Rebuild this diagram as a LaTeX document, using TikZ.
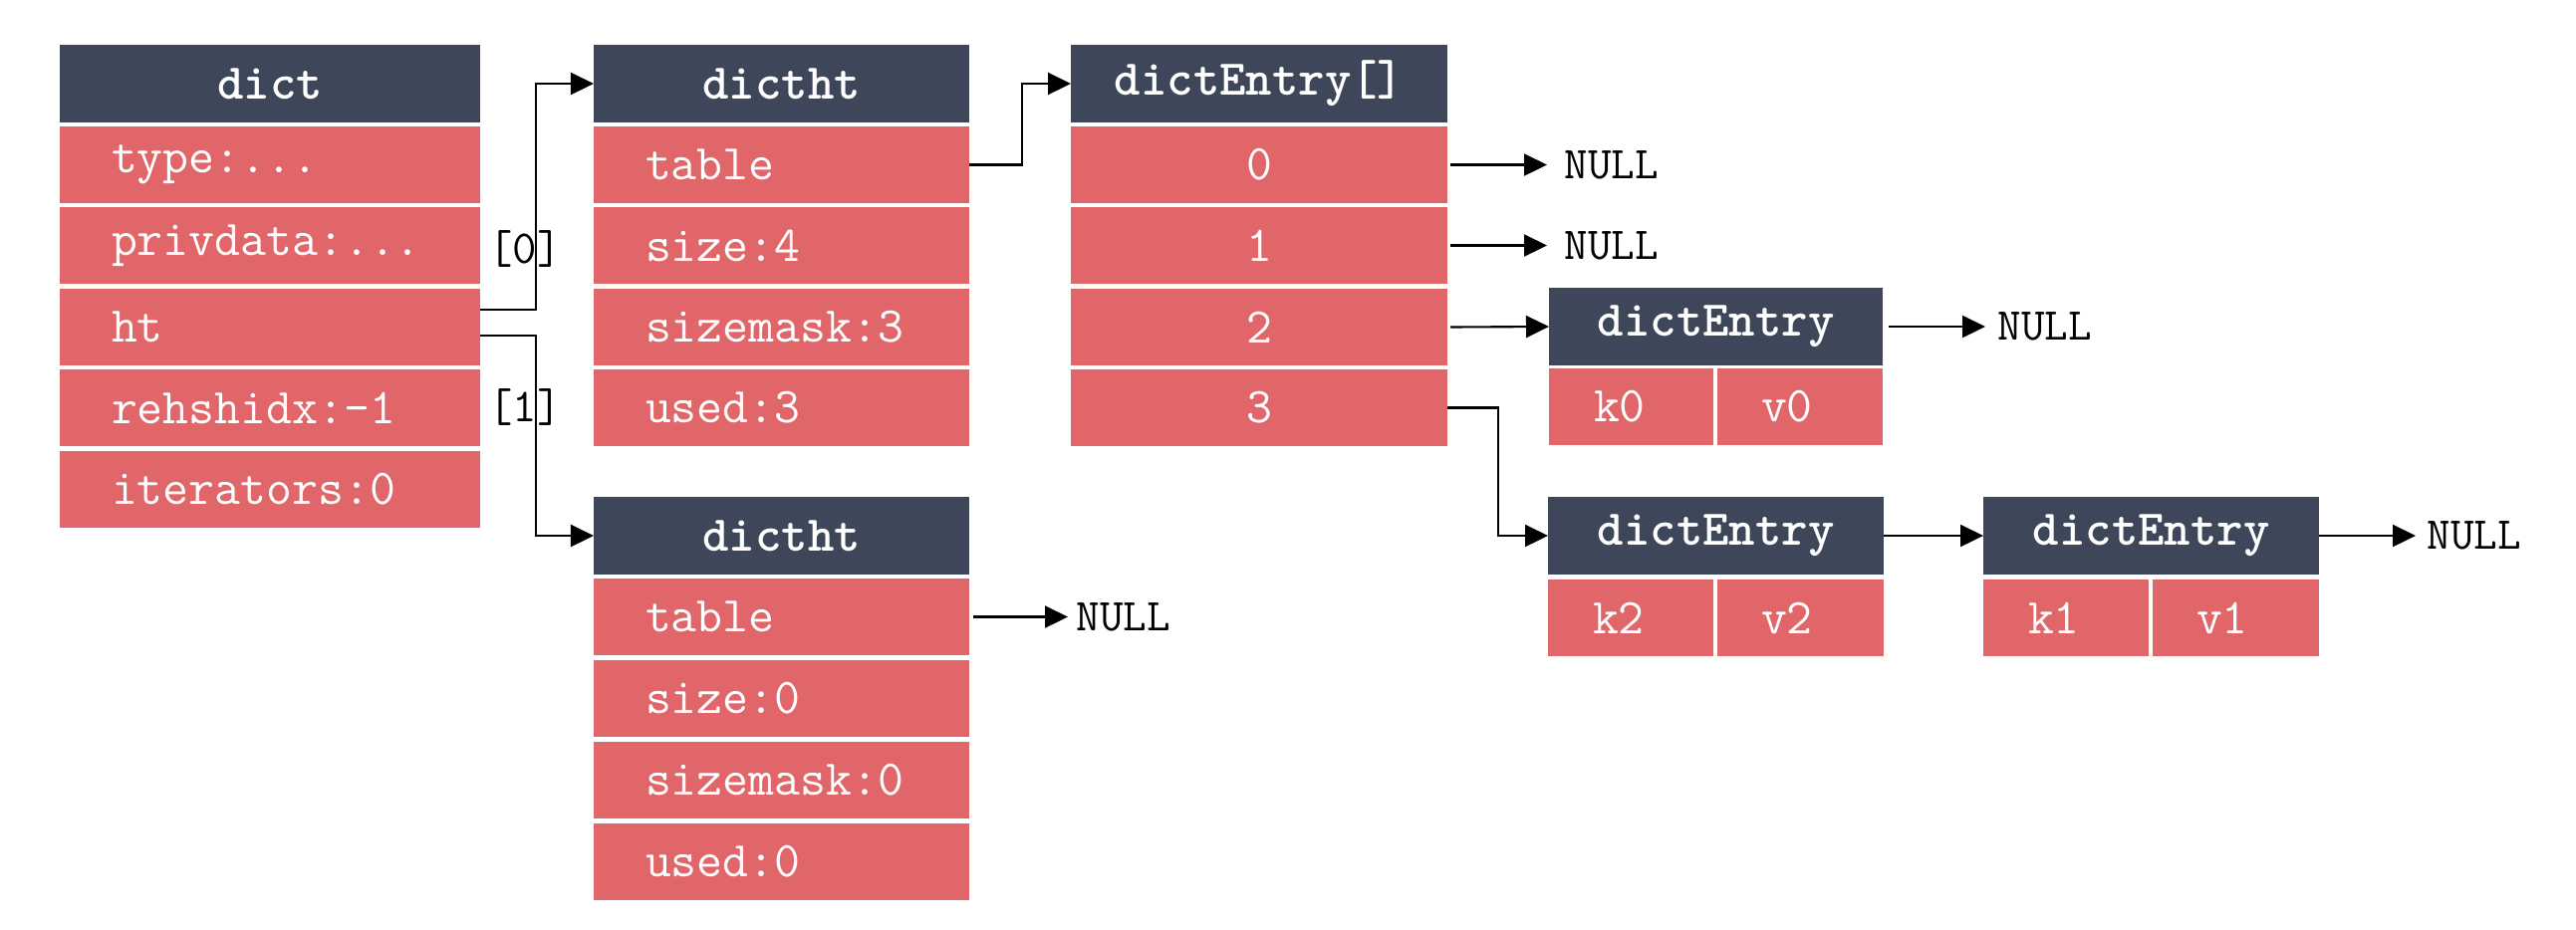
\documentclass[tikz,border=0pt]{standalone}
\usepackage{fontspec}
\usetikzlibrary{arrows.meta}
\definecolor{hdrc}{RGB}{61,71,89}
\definecolor{redc}{RGB}{224,102,106}
\begin{document}
\begin{tikzpicture}[x=0.01cm,y=-0.01cm,
 hdr/.style={fill=hdrc,text=white,font=\ttfamily\bfseries\fontsize{14.3}{16}\selectfont,inner sep=0,outer sep=0,anchor=north west,minimum width=#1,minimum height=0.78cm},
 fld/.style={fill=redc,text=white,font=\ttfamily\fontsize{14.3}{16}\selectfont,inner sep=0,outer sep=0,anchor=north west,text width=#1,minimum height=0.77cm,align=left},
 ctr/.style={fill=redc,text=white,font=\ttfamily\fontsize{14.3}{16}\selectfont,inner sep=0,outer sep=0,anchor=north west,minimum width=#1,minimum height=0.77cm},
 arr/.style={draw=black,line width=0.6pt,-{Triangle[length=0.23cm,width=0.22cm]}},
 nul/.style={font=\ttfamily\fontsize{13}{15}\selectfont,inner sep=0,anchor=west},
 lbl/.style={font=\ttfamily\fontsize{13.5}{15}\selectfont,inner sep=0}]
\useasboundingbox (0,0) rectangle (2586,934);
% dict
\node[hdr=4.22cm] (d) at (60,45) {dict};
\node[fld=4.22cm] (d1) at (60,127) {\noindent\hspace*{0.52cm}type:...};
\node[fld=4.22cm] (d2) at (60,208) {\noindent\hspace*{0.52cm}privdata:...};
\node[fld=4.22cm] (d3) at (60,290) {\noindent\hspace*{0.52cm}ht};
\node[fld=4.22cm] (d4) at (60,371) {\noindent\hspace*{0.52cm}rehshidx:-1};
\node[fld=4.22cm] (d5) at (60,453) {\noindent\hspace*{0.52cm}iterators:0};
% dictht 0
\node[hdr=3.77cm] (t0) at (596,45) {dictht};
\node[fld=3.77cm] (h1) at (596,127) {\noindent\hspace*{0.52cm}table};
\node[fld=3.77cm] (h2) at (596,208) {\noindent\hspace*{0.52cm}size:4};
\node[fld=3.77cm] (h3) at (596,290) {\noindent\hspace*{0.52cm}sizemask:3};
\node[fld=3.77cm] (h4) at (596,371) {\noindent\hspace*{0.52cm}used:3};
% dictht 1
\node[hdr=3.77cm] (t1) at (596,499) {dictht};
\node[fld=3.77cm] (g1) at (596,581) {\noindent\hspace*{0.52cm}table};
\node[fld=3.77cm] (g2) at (596,663) {\noindent\hspace*{0.52cm}size:0};
\node[fld=3.77cm] (g3) at (596,745) {\noindent\hspace*{0.52cm}sizemask:0};
\node[fld=3.77cm] (g4) at (596,827) {\noindent\hspace*{0.52cm}used:0};
% dictEntry[]
\node[hdr=3.78cm] (e) at (1075,45) {dictEntry[]};
\node[ctr=3.78cm] (e0) at (1075,127) {0};
\node[ctr=3.78cm] (e1) at (1075,208) {1};
\node[ctr=3.78cm] (e2) at (1075,290) {2};
\node[ctr=3.78cm] (e3) at (1075,371) {3};
% dictEntry A
\node[hdr=3.35cm] (A) at (1555,289) {dictEntry};
\node[fld=1.65cm] (Ak) at (1555,370) {\noindent\hspace*{0.45cm}k0};
\node[fld=1.66cm] (Av) at (1724,370) {\noindent\hspace*{0.44cm}v0};
% dictEntry B
\node[hdr=3.37cm] (B) at (1554,499) {dictEntry};
\node[fld=1.66cm] (Bk) at (1554,582) {\noindent\hspace*{0.45cm}k2};
\node[fld=1.67cm] (Bv) at (1724,582) {\noindent\hspace*{0.44cm}v2};
% dictEntry C
\node[hdr=3.37cm] (C) at (1991,499) {dictEntry};
\node[fld=1.66cm] (Ck) at (1991,582) {\noindent\hspace*{0.45cm}k1};
\node[fld=1.67cm] (Cv) at (2161,582) {\noindent\hspace*{0.44cm}v1};
% NULL labels
\node[nul] (n0) at (1570,166) {NULL};
\node[nul] (n1) at (1570,247) {NULL};
\node[nul] (nA) at (2005,328) {NULL};
\node[nul] (nC) at (2436,538) {NULL};
\node[nul] (ng) at (1080,620) {NULL};
% index labels
\node[lbl] (l0) at (527,250) {[0]};
\node[lbl] (l1) at (527,409) {[1]};
% connectors
\draw[arr] ([yshift=0.175cm]d3.east) -- ++(56,0) |- (t0.west);
\draw[arr] ([yshift=-0.085cm]d3.east) -- ++(56,0) |- (t1.west);
\draw[arr] (h1.east) -- ++(53,0) |- (e.west);
\draw[arr,shorten >=0.17cm,shorten <=0.03cm] (e0.east) -- (e0.east -| n0.west);
\draw[arr,shorten >=0.17cm,shorten <=0.03cm] (e1.east) -- (e1.east -| n1.west);
\draw[arr,shorten <=0.03cm] (e2.east) -- (A.west);
\draw[arr,shorten >=0.12cm,shorten <=0.06cm] (A.east) -- (A.east -| nA.west);
\draw[arr] (e3.east) -- ++(51,0) |- (B.west);
\draw[arr] (B.east) -- (C.west);
\draw[arr,shorten >=0.11cm] (C.east) -- (C.east -| nC.west);
\draw[arr,shorten >=0.08cm,shorten <=0.04cm] (g1.east) -- (g1.east -| ng.west);
\end{tikzpicture}
\end{document}
